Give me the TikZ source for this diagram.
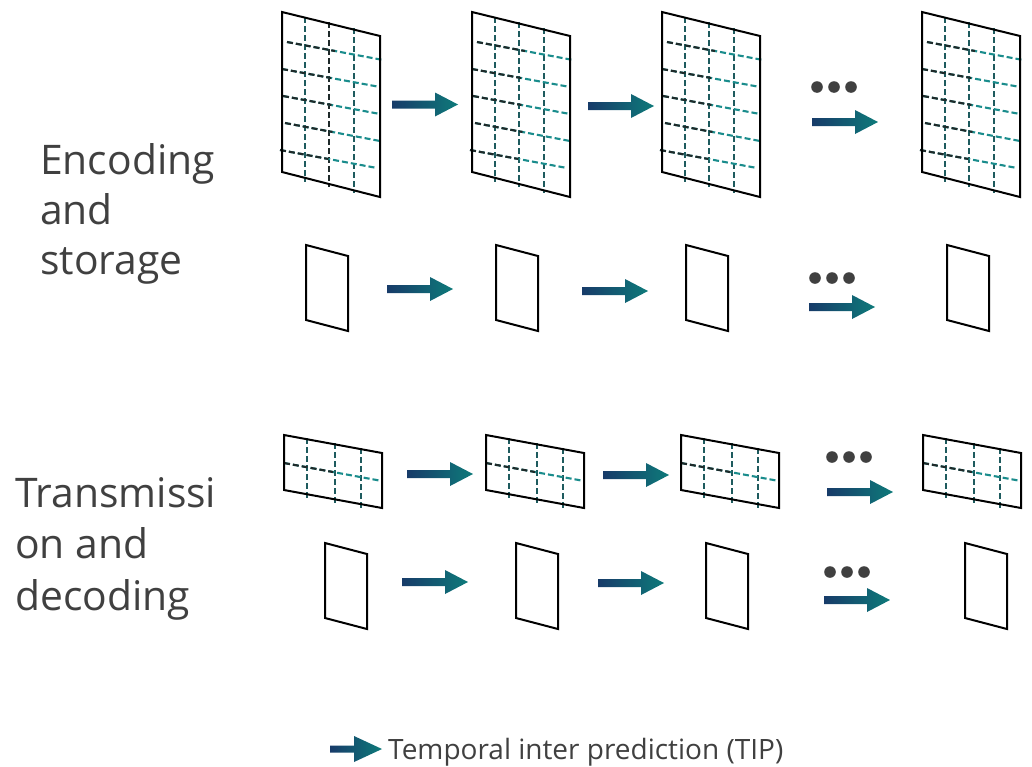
\documentclass[tikz,border=0pt]{standalone}
\usepackage{fontspec}
\setmainfont{Open Sans}
\definecolor{arrL}{HTML}{173B69}
\definecolor{arrR}{HTML}{0E7A7A}
\definecolor{ht}{HTML}{1A8C8C}
\definecolor{vt}{HTML}{1E5B5E}
\definecolor{hk}{HTML}{1F2A2A}
\definecolor{txt}{HTML}{404040}
\tikzset{
  x=1pt, y=-1pt,
  frame/.style={draw=black, line width=2pt, line join=miter},
  dsh/.style={line width=2.1pt, dash pattern=on 6pt off 3pt},
  dotc/.style={fill=txt},
  lbl/.style={anchor=base west, text=txt, inner sep=0pt, font=\fontsize{40.8}{48}\selectfont},
  leg/.style={anchor=base west, text=txt, inner sep=0pt, font=\fontsize{28}{32}\selectfont},
}
\newcommand{\hdl}[4]{%
  \draw[dsh, ht] ({#1},{#2}) -- ({#3},{#4});
  \draw[dsh, hk] ({#1},{#2}) -- ({(#1+#3)/2},{(#2+#4)/2});
}
\newcommand{\bigframe}[2]{%
  \draw[dsh, vt] ({#1+23},17) -- ({#1+23},182);
  \draw[dsh, #2] ({#1+47},22) -- ({#1+47},187);
  \draw[dsh, vt] ({#1+72},28) -- ({#1+72},193);
  \hdl{#1+5}{42}{#1+101}{60}
  \hdl{#1}{69}{#1+98}{87}
  \hdl{#1+1}{96}{#1+98}{114}
  \hdl{#1+3}{123}{#1+98}{141}
  \hdl{#1-2}{150}{#1+95}{168}
  \draw[frame] (#1,12) -- ({#1+98},36) -- ({#1+98},197) -- (#1,172) -- cycle;
}
\newcommand{\wideframe}[1]{%
  \draw[dsh, vt] ({#1+23},438) -- ({#1+23},499);
  \draw[dsh, vt] ({#1+51},443) -- ({#1+51},504);
  \draw[dsh, vt] ({#1+77},448) -- ({#1+77},509);
  \hdl{#1}{463}{#1+98}{481}
  \draw[frame] (#1,435) -- ({#1+98},453) -- ({#1+98},508) -- (#1,490) -- cycle;
}
\newcommand{\smallframe}[2]{%
  \draw[frame] (#1,#2) -- ({#1+42},{#2+11}) -- ({#1+42},{#2+86}) -- (#1,{#2+75}) -- cycle;
}
\newcommand{\tiparrow}[2]{%
  \shade[left color=arrL, right color=arrR]
    (#1,{#2-4}) -- ({#1+43},{#2-4}) -- ({#1+43},{#2-12}) -- ({#1+66},#2)
    -- ({#1+43},{#2+12}) -- ({#1+43},{#2+4}) -- (#1,{#2+4}) -- cycle;
}
\newcommand{\threedots}[2]{%
  \fill[dotc] (#1,#2) circle (5.8);
  \fill[dotc] ({#1+17},#2) circle (5.8);
  \fill[dotc] ({#1+34},#2) circle (5.8);
}
\begin{document}
\begin{tikzpicture}
\useasboundingbox (0,0) rectangle (1032,766);

% labels
\node[lbl] (enc1) at (40,174) {Encoding};
\node[lbl] (enc2) at (40,224) {and};
\node[lbl] (enc3) at (40,274) {storage};
\node[lbl] (tra1) at (15,507) {Transmissi};
\node[lbl] (tra2) at (15,558) {on and};
\node[lbl] (tra3) at (15,610) {decoding};

% row 1
\bigframe{282}{hk}
\bigframe{472}{vt}
\bigframe{662}{vt}
\bigframe{922}{vt}
\tiparrow{392}{104.5}
\tiparrow{588}{106}
\tiparrow{812}{122}
\threedots{817}{87}

% row 2
\smallframe{306}{245}
\smallframe{496}{245}
\smallframe{686}{245}
\smallframe{947}{245}
\tiparrow{387}{289}
\tiparrow{582}{291}
\tiparrow{809}{307}
\threedots{815}{278}

% row 3
\wideframe{284}
\wideframe{486}
\wideframe{681}
\wideframe{923}
\tiparrow{407}{474}
\tiparrow{603}{475}
\tiparrow{827}{492}
\threedots{832}{457}

% row 4
\smallframe{325}{543}
\smallframe{516}{543}
\smallframe{706}{543}
\smallframe{965}{543}
\tiparrow{402}{582}
\tiparrow{598}{583}
\tiparrow{824}{600}
\threedots{830}{572}

% legend
\shade[left color=arrL, right color=arrR]
  (330,745.5) -- (354,745.5) -- (354,736) -- (382,749) -- (354,762) -- (354,752.5) -- (330,752.5) -- cycle;
\node[leg] (legtext) at (388,759) {Temporal inter prediction (TIP)};
\end{tikzpicture}
\end{document}
